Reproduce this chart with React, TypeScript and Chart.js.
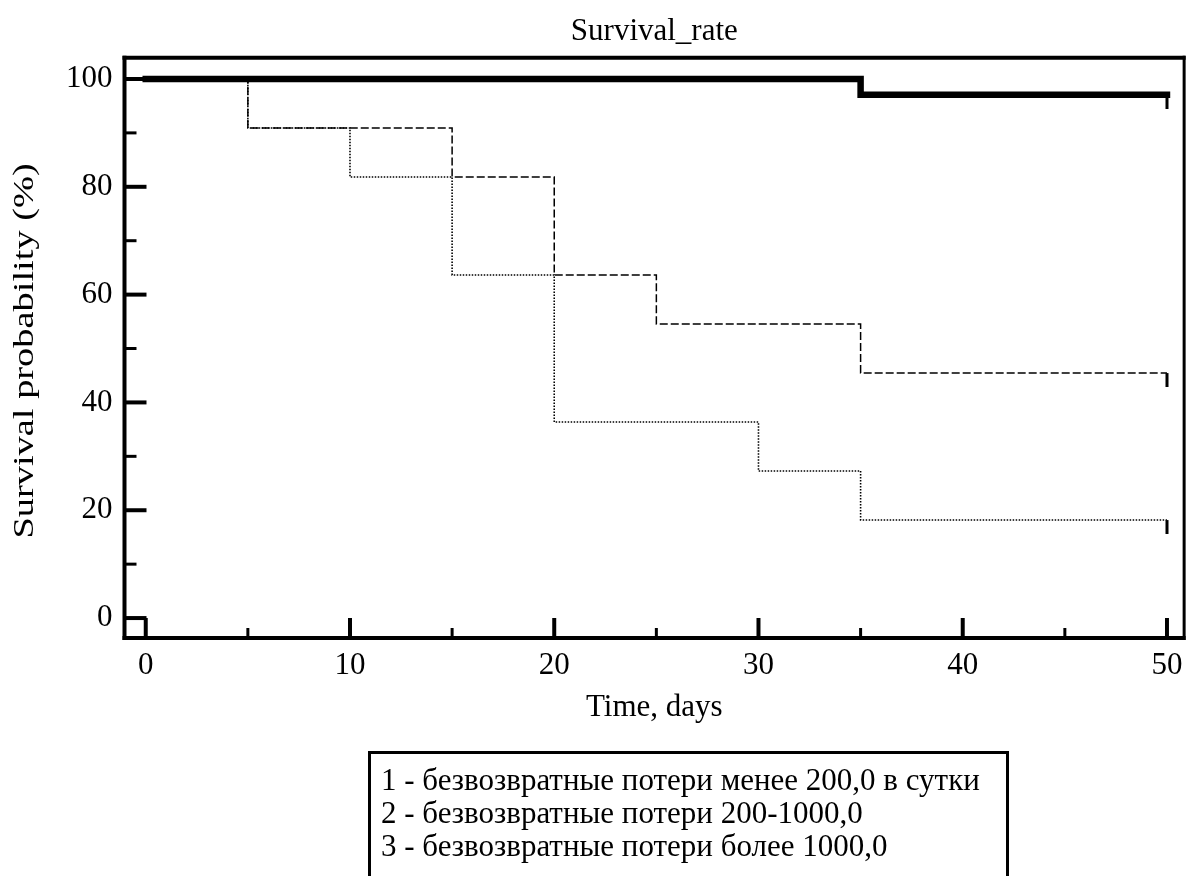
import React, { useEffect, useRef } from "react";
import { Chart, registerables } from "chart.js";

Chart.register(...registerables);

const chartTitle = "Survival_rate";
const xAxisTitle = "Time, days";
const yAxisTitle = "Survival probability (%)";

const xMajorTicks = [0, 10, 20, 30, 40, 50];
const xMinorTicks = [5, 15, 25, 35, 45];
const yMajorTicks = [0, 20, 40, 60, 80, 100];
const yMinorTicks = [10, 30, 50, 70, 90];

const group1Times = [0, 35, 50];
const group1Survival = [100, 97.06, 97.06];
const group2Times = [0, 5, 15, 20, 25, 35, 50];
const group2Survival = [100, 90.91, 81.82, 63.64, 54.55, 45.45, 45.45];
const group3Times = [0, 5, 10, 15, 20, 30, 35, 50];
const group3Survival = [100, 90.91, 81.82, 63.64, 36.36, 27.27, 18.18, 18.18];

const legendLabels = [
  "1 - безвозвратные потери менее 200,0 в сутки",
  "2 - безвозвратные потери 200-1000,0",
  "3 - безвозвратные потери более 1000,0",
];

const FONT = "'Liberation Serif', 'Times New Roman', serif";
const FS = 31;

function toPoints(times: number[], values: number[]) {
  return times.map((t, i) => ({ x: t, y: values[i] }));
}

function makeCensorMark(width: number, len: number) {
  const c = document.createElement("canvas");
  c.width = 8;
  c.height = len * 2;
  const g = c.getContext("2d")!;
  g.fillStyle = "#000";
  g.fillRect((8 - width) / 2, len, width, len);
  return c;
}

const framePlugin = {
  id: "kmFrame",
  afterDatasetsDraw(chart: any) {
    const { ctx, chartArea: a, scales } = chart;
    const xs = scales.x;
    const ys = scales.y;
    ctx.save();
    ctx.strokeStyle = "#000";
    ctx.lineCap = "butt";
    const line = (x1: number, y1: number, x2: number, y2: number, w: number) => {
      ctx.lineWidth = w;
      ctx.beginPath();
      ctx.moveTo(x1, y1);
      ctx.lineTo(x2, y2);
      ctx.stroke();
    };
    line(a.left - 2, a.top, a.right + 1.5, a.top, 4);
    line(a.left - 2, a.bottom, a.right + 1.5, a.bottom, 4);
    line(a.left, a.top - 2, a.left, a.bottom + 2, 4);
    line(a.right, a.top - 2, a.right, a.bottom + 2, 3);
    xMajorTicks.forEach((v) => {
      const px = xs.getPixelForValue(v);
      line(px, a.bottom, px, a.bottom - 20, 4);
    });
    xMinorTicks.forEach((v) => {
      const px = xs.getPixelForValue(v);
      line(px, a.bottom, px, a.bottom - 10, 3);
    });
    yMajorTicks.forEach((v) => {
      const py = ys.getPixelForValue(v);
      line(a.left, py, a.left + 22, py, 4);
    });
    yMinorTicks.forEach((v) => {
      const py = ys.getPixelForValue(v);
      line(a.left, py, a.left + 12, py, 3);
    });
    ctx.restore();
  },
  afterDraw(chart: any) {
    const { ctx, chartArea: a } = chart;
    ctx.save();
    ctx.translate(25, (a.top + a.bottom) / 2 + 3);
    ctx.rotate(-Math.PI / 2);
    ctx.scale(1.28, 1);
    ctx.font = `30px ${FONT}`;
    ctx.fillStyle = "#000";
    ctx.textAlign = "center";
    ctx.textBaseline = "middle";
    ctx.fillText(yAxisTitle, 0, 0);
    ctx.restore();
  },
};

export default function App() {
  const canvasRef = useRef<HTMLCanvasElement | null>(null);

  useEffect(() => {
    if (!canvasRef.current) return;
    const mark = makeCensorMark(3, 14);
    const lastOnly = (n: number) => (c: any) => (c.dataIndex === n - 1 ? 4 : 0);

    const chart = new Chart(canvasRef.current, {
      type: "line",
      data: {
        datasets: [
          {
            label: "1",
            data: toPoints(group1Times, group1Survival),
            stepped: "before",
            borderColor: "#000",
            borderWidth: 6.5,
            borderCapStyle: "square",
            borderJoinStyle: "miter",
            pointStyle: mark,
            pointRadius: lastOnly(group1Times.length),
            fill: false,
          },
          {
            label: "2",
            data: toPoints(group2Times, group2Survival),
            stepped: "before",
            borderColor: "#000",
            borderWidth: 1.5,
            borderDash: [8, 3],
            pointStyle: mark,
            pointRadius: lastOnly(group2Times.length),
            fill: false,
          },
          {
            label: "3",
            data: toPoints(group3Times, group3Survival),
            stepped: "before",
            borderColor: "#000",
            borderWidth: 1.6,
            borderDash: [1.5, 1.5],
            pointStyle: mark,
            pointRadius: lastOnly(group3Times.length),
            fill: false,
          },
        ] as any,
      },
      options: {
        animation: false,
        responsive: false,
        events: [],
        layout: {
          autoPadding: false,
          padding: { top: 0, left: 0, right: 5.5, bottom: 149.4 },
        },
        plugins: {
          legend: { display: false },
          tooltip: { enabled: false },
          title: {
            display: true,
            text: chartTitle,
            fullSize: false,
            color: "#000",
            font: { family: FONT, size: FS, weight: "normal" },
            padding: { top: 13.4, bottom: 7.2 },
          },
        },
        scales: {
          x: {
            type: "linear",
            min: -1.04,
            max: 50.84,
            afterBuildTicks: (s: any) => {
              s.ticks = xMajorTicks.map((v) => ({ value: v }));
            },
            afterFit: (s: any) => {
              s.height = 88.6;
            },
            grid: { display: false, drawTicks: false },
            border: { display: false },
            ticks: {
              padding: 9.4,
              color: "#000",
              autoSkip: false,
              maxRotation: 0,
              font: { family: FONT, size: FS },
            },
            title: {
              display: true,
              text: xAxisTitle,
              color: "#000",
              font: { family: FONT, size: FS },
              padding: { top: 0, bottom: 0 },
            },
          },
          y: {
            type: "linear",
            min: -3.7,
            max: 103.93,
            afterBuildTicks: (s: any) => {
              s.ticks = yMajorTicks.map((v) => ({ value: v }));
            },
            afterFit: (s: any) => {
              s.width = 124.5;
            },
            grid: { display: false, drawTicks: false },
            border: { display: false },
            ticks: {
              padding: 12,
              color: "#000",
              autoSkip: false,
              font: { family: FONT, size: FS },
            },
            title: { display: false },
          },
        },
      } as any,
      plugins: [framePlugin],
    });
    return () => chart.destroy();
  }, []);

  return (
    <div
      style={{
        position: "fixed",
        left: 0,
        top: 0,
        width: 1192,
        height: 876,
        background: "#fff",
        overflow: "hidden",
      }}
    >
      <canvas
        ref={canvasRef}
        width={1192}
        height={876}
        style={{ position: "absolute", left: 0, top: 0, width: 1192, height: 876 }}
      />
      <div
        style={{
          position: "absolute",
          left: 368,
          top: 751,
          width: 641,
          bottom: 0,
          borderLeft: "3px solid #000",
          borderTop: "3px solid #000",
          borderRight: "3px solid #000",
          padding: "9px 0 0 10px",
          fontFamily: FONT,
          fontSize: FS,
          lineHeight: "33px",
          color: "#000",
          whiteSpace: "nowrap",
          boxSizing: "border-box",
        }}
      >
        {legendLabels.map((t) => (
          <div key={t}>{t}</div>
        ))}
      </div>
    </div>
  );
}
